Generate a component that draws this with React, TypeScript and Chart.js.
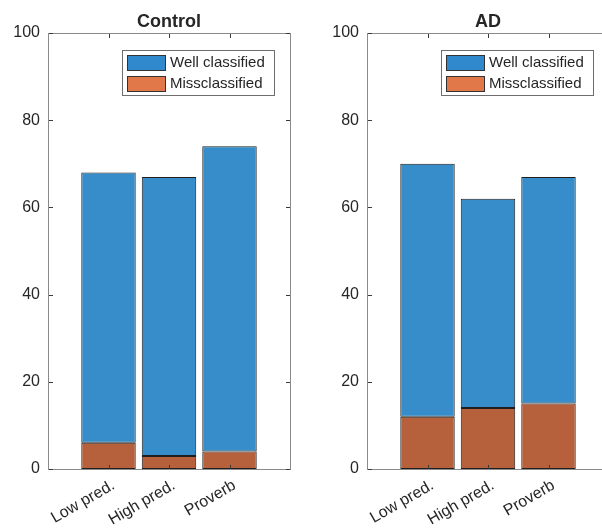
import React, { useEffect, useRef } from "react";
import { Chart, registerables } from "chart.js";

Chart.register(...registerables);

const categories = ["Low pred.", "High pred.", "Proverb"];
const controlWell = [62, 64, 70];
const controlMiss = [6, 3, 4];
const adWell = [58, 48, 52];
const adMiss = [12, 14, 15];
const yTicks = [0, 20, 40, 60, 80, 100];
const seriesLabels = ["Well classified", "Missclassified"];

const BAR_BLUE = "#368DC9";
const BAR_ORANGE = "#B6603C";
const LEG_BLUE = "#3089CC";
const LEG_ORANGE = "#E07849";
const TEXT = "#262626";
const AXIS = "#8a8a8a";
const FONT = "'Liberation Sans', Arial, sans-serif";

function Panel({ title, well, miss, left }: { title: string; well: number[]; miss: number[]; left: number }) {
  const ref = useRef<HTMLCanvasElement | null>(null);
  useEffect(() => {
    if (!ref.current) return;
    const decor = {
      id: "decor",
      afterDraw(chart: any) {
        const ctx = chart.ctx as CanvasRenderingContext2D;
        const a = chart.chartArea;
        const xs = chart.scales.x;
        const ys = chart.scales.y;
        ctx.save();
        ctx.strokeStyle = AXIS;
        ctx.lineWidth = 1;
        ctx.strokeRect(Math.round(a.left) + 0.5, Math.round(a.top) + 0.5, Math.round(a.right - a.left), Math.round(a.bottom - a.top));
        const tl = 4;
        ctx.strokeStyle = "#3a3a3a";
        ctx.beginPath();
        yTicks.forEach((v) => {
          const y = Math.round(ys.getPixelForValue(v)) + 0.5;
          ctx.moveTo(a.left + 1, y); ctx.lineTo(a.left + 1 + tl, y);
          ctx.moveTo(a.right, y); ctx.lineTo(a.right - tl, y);
        });
        categories.forEach((_, i) => {
          const x = Math.round(xs.getPixelForValue(i + 1)) + 0.5;
          ctx.moveTo(x, a.bottom); ctx.lineTo(x, a.bottom - tl);
          ctx.moveTo(x, a.top + 1); ctx.lineTo(x, a.top + 1 + tl);
        });
        ctx.stroke();
        ctx.fillStyle = TEXT;
        ctx.font = `bold 18px ${FONT}`;
        ctx.textAlign = "center";
        ctx.textBaseline = "alphabetic";
        ctx.fillText(title, (a.left + a.right) / 2, a.top - 6);
        const bx = Math.round(a.left) + 74;
        const by = Math.round(a.top) + 17;
        ctx.fillStyle = "#ffffff";
        ctx.fillRect(bx, by, 152, 45);
        ctx.strokeStyle = "#6e6e6e";
        ctx.strokeRect(bx + 0.5, by + 0.5, 152, 45);
        const cols = [LEG_BLUE, LEG_ORANGE];
        seriesLabels.forEach((lab, i) => {
          const sy = by + 5 + i * 21;
          ctx.fillStyle = cols[i];
          ctx.fillRect(bx + 5, sy, 38, 15);
          ctx.strokeStyle = "#333333";
          ctx.strokeRect(bx + 5.5, sy + 0.5, 38, 15);
          ctx.fillStyle = TEXT;
          ctx.font = `15px ${FONT}`;
          ctx.textAlign = "left";
          ctx.textBaseline = "middle";
          ctx.fillText(lab, bx + 48, sy + 8);
        });
        ctx.restore();
      },
    };
    const common = {
      borderColor: "#1e1e1e",
      borderWidth: 1,
      borderSkipped: false,
      barPercentage: 0.9,
      categoryPercentage: 1,
    };
    const chart = new Chart(ref.current, {
      type: "bar",
      data: {
        datasets: [
          { label: seriesLabels[1], data: miss.map((v, i) => ({ x: i + 1, y: v })), backgroundColor: BAR_ORANGE, ...common },
          { label: seriesLabels[0], data: well.map((v, i) => ({ x: i + 1, y: v })), backgroundColor: BAR_BLUE, ...common },
        ],
      },
      options: {
        animation: false,
        responsive: false,
        layout: { padding: { top: 33, right: 10, left: 0, bottom: 0 } },
        plugins: { legend: { display: false }, tooltip: { enabled: false }, title: { display: false } },
        scales: {
          x: {
            type: "linear",
            stacked: true,
            offset: false,
            min: 0,
            max: 4,
            grid: { display: false, drawTicks: false },
            border: { display: false },
            afterBuildTicks: (s: any) => {
              s.ticks = categories.map((_, i) => ({ value: i + 1 }));
            },
            afterFit: (s: any) => {
              s.height = 62;
            },
            ticks: {
              minRotation: 30,
              maxRotation: 30,
              padding: 7,
              labelOffset: 5,
              color: TEXT,
              font: { size: 16, family: FONT },
              callback: (v: any) => categories[Number(v) - 1] ?? "",
            },
          },
          y: {
            stacked: true,
            min: 0,
            max: 100,
            grid: { display: false, drawTicks: false },
            border: { display: false },
            afterBuildTicks: (s: any) => {
              s.ticks = yTicks.map((v) => ({ value: v }));
            },
            afterFit: (s: any) => {
              s.width = 48;
            },
            ticks: {
              padding: 8,
              color: TEXT,
              font: { size: 16, family: FONT },
            },
          },
        },
      } as any,
      plugins: [decor],
    });
    return () => chart.destroy();
  }, [title, well, miss]);
  return (
    <canvas
      ref={ref}
      width={300}
      height={531}
      style={{ position: "absolute", left, top: 0, width: 300, height: 531 }}
    />
  );
}

export default function App() {
  return (
    <div style={{ position: "fixed", left: 0, top: 0, width: 602, height: 531, overflow: "hidden", background: "#ffffff" }}>
      <Panel title="Control" well={controlWell} miss={controlMiss} left={0} />
      <Panel title="AD" well={adWell} miss={adMiss} left={319} />
    </div>
  );
}
